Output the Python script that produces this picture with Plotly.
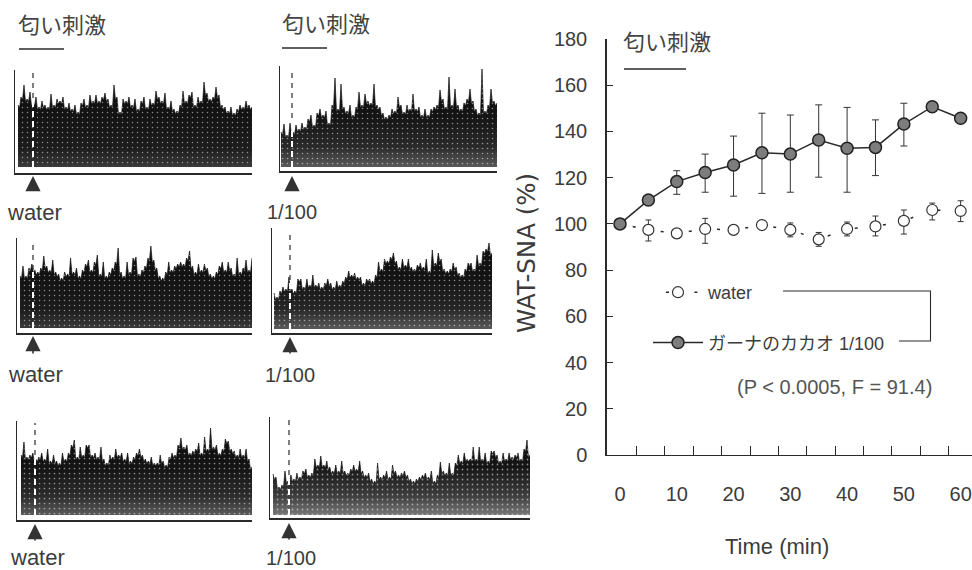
import plotly.graph_objects as go

# ---------- main chart data ----------
time_min = [0, 5, 10, 15, 20, 25, 30, 35, 40, 45, 50, 55, 60]
water = [100, 97.4, 95.9, 97.8, 97.4, 99.5, 97.4, 93.3, 97.8, 98.9, 101.3, 106, 105.6]
water_hi = [100, 101.7, 97.9, 102.4, 99.4, 101.5, 100.4, 96.3, 100.8, 103.4, 106, 109, 110]
water_lo = [100, 92.6, 93.9, 91.6, 95.4, 97.5, 94.4, 90.3, 94.8, 94.8, 95.6, 101.7, 101]
cacao = [100, 110.3, 118.3, 122.2, 125.5, 130.8, 130.2, 136.3, 132.7, 133.1, 143.2, 150.7, 145.7]
cacao_hi = [100, 110.3, 123, 130.2, 138, 147.9, 147.1, 151.5, 150.4, 145, 152.2, 152, 145.7]
cacao_lo = [100, 110.3, 112.8, 113.7, 112, 113.2, 113.7, 120.2, 113.7, 120.9, 133.7, 149.5, 145.7]
x_tick_labels = [0, 10, 20, 30, 40, 50, 60]
y_tick_labels = [0, 20, 40, 60, 80, 100, 120, 140, 160, 180]
# the printed tick marks sit about 2 min left of the plotted positions
x_tick_marks = [2.9, 7.9, 12.9, 17.9, 23.0, 27.9, 32.9, 37.9, 42.9, 47.9, 52.9, 57.9]

# ---------- nerve-activity traces: outline heights ----------
trace_water_1 = [62,70,82,68,75,64,70,60,66,62,60,73,62,68,66,70,60,64,58,62,55,64,68,62,72,66,72,66,70,74,68,62,82,70,55,68,66,70,62,68,58,66,70,60,68,64,76,70,66,74,60,66,58,56,62,76,66,72,75,62,70,66,85,74,68,70,80,72,62,60,56,60,54,58,62,60,66,62,60]
trace_dose_1 = [35,43,32,44,35,42,38,44,40,48,52,42,54,58,52,56,44,62,89,58,83,60,56,62,52,60,75,62,73,66,64,83,62,60,54,50,52,58,56,70,62,55,62,58,73,58,60,52,58,52,58,60,62,77,68,60,90,62,78,62,58,64,68,78,66,58,54,98,56,62,78,66,64]
trace_water_2 = [52,62,52,60,64,58,56,60,72,62,58,68,56,54,50,56,54,70,56,60,52,58,64,68,58,66,73,54,66,52,56,60,66,80,56,52,66,56,70,71,54,58,62,70,82,68,60,52,50,56,66,58,62,64,66,64,70,77,62,56,64,58,64,60,54,52,56,62,66,58,66,60,54,70,56,60,68,58,70]
trace_dose_2 = [36,32,38,42,40,52,40,38,50,50,42,50,44,54,44,46,42,46,50,46,42,48,44,48,52,58,54,56,52,52,46,50,50,48,54,67,60,70,68,72,76,68,62,70,64,70,62,60,64,66,62,70,58,79,66,76,70,60,58,60,66,62,56,54,60,66,66,60,74,66,78,80,86,76]
trace_water_3 = [60,73,58,60,62,56,58,62,56,66,54,60,54,52,62,56,62,70,75,58,68,60,70,70,60,62,58,68,56,52,60,58,66,60,62,56,62,54,58,62,66,60,56,54,58,52,52,60,54,50,58,62,60,70,77,68,70,62,64,66,72,62,78,66,87,68,70,62,66,76,74,66,64,60,66,60,66,56,48]
trace_dose_3 = [41,38,28,30,44,34,40,36,42,38,44,46,40,42,56,50,59,50,54,48,44,50,44,54,44,42,46,50,46,54,44,40,42,36,34,52,38,40,44,38,50,44,40,42,44,40,36,34,36,38,40,42,38,44,34,40,53,44,42,52,42,52,60,54,62,56,56,68,56,68,56,62,54,64,64,60,54,62,56,62,58,60,62,56,66,75,60]
panel_traces = [trace_water_1, trace_dose_1, trace_water_2, trace_dose_2, trace_water_3, trace_dose_3]
panel_labels = ["water", "1/100", "water", "1/100", "water", "1/100"]

W, H = 972, 570
def px(x): return x / W
def py(y): return 1 - y / H

INK = "#2a2a2a"
TXT = "#3c3c3c"
LAT = "Liberation Sans, Arial, sans-serif"
CJK = "Noto Sans CJK JP, sans-serif"

# axisL, axisR, axisB, axisT, fillL, fillB, stimX, arrowTop, arrowBottom, labelX, labelY, stimTopOfFill, solidity, lowGray, midGray
geom = [
    (15, 252, 173, 70, 18, 167, 33, 176, 192, 8, 212, 98, 0.07, "#3a3a3a", "#1c1c1c"),
    (280, 497, 171, 66, 281, 167, 292, 176, 192, 268, 212, 118, 0.08, "#5a5a5a", "#2a2a2a"),
    (17, 252, 333, 238, 20, 328, 33, 336, 355, 9, 374, 270, 0.07, "#3a3a3a", "#1c1c1c"),
    (272, 492, 333, 228, 274, 329, 290, 337, 355, 266, 375, 280, 0.08, "#5a5a5a", "#262626"),
    (17, 252, 520, 421, 21, 515, 35, 524, 542, 11, 557.5, 455, 0.09, "#5a5a5a", "#2c2c2c"),
    (270, 530, 518, 417, 273, 515, 289, 523, 541, 267, 557.5, 475, 0.10, "#777777", "#3c3c3c"),
]

fig = go.Figure()
layout = {}
shapes, annos = [], []

def spiky(vals):
    """Outline with a sharp notch between neighbouring readings, as in the scanned trace."""
    xs, ys = [], []
    for k, v in enumerate(vals):
        xs.append(k)
        ys.append(v)
        if k < len(vals) - 1:
            xs.append(k + 0.5)
            ys.append(min(v, vals[k + 1]) - 3)
    return xs, ys

for i, (vals, g, lab) in enumerate(zip(panel_traces, geom, panel_labels), start=1):
    aL, aR, aB, aT, fL, fB, sx, arT, arB, lx, ly, sT, sol, low, mid = g
    step = (aR - fL) / (len(vals) - 1)
    xs, ys = spiky(vals)
    # shaded body (black near the top, greyer near the base)
    fig.add_trace(go.Scatter(
        x=xs, y=ys, xaxis=f"x{i}", yaxis=f"y{i}",
        mode="lines", line=dict(color="#111111", width=0.7), fill="tozeroy",
        fillgradient=dict(type="vertical", start=0, stop=fB - aT,
                          colorscale=[[0, low], [0.2, mid], [0.5, "#141414"], [1, "#0c0c0c"]]),
        showlegend=False, hoverinfo="skip"))
    # stippled scan texture
    fig.add_trace(go.Scatter(
        x=xs, y=ys, xaxis=f"x{i}", yaxis=f"y{i}",
        mode="lines", line=dict(color="rgba(0,0,0,0)", width=0), fill="tozeroy",
        fillcolor="rgba(0,0,0,0)",
        fillpattern=dict(shape=".", fgcolor="#ffffff", bgcolor="rgba(0,0,0,0)", size=5, solidity=sol),
        showlegend=False, hoverinfo="skip"))
    layout[f"xaxis{i}"] = dict(domain=[px(aL), px(aR)], range=[-(fL - aL) / step, len(vals) - 1],
                               anchor=f"y{i}", showgrid=False, zeroline=False, showticklabels=False,
                               ticks="", showline=True, linecolor=INK, linewidth=1.5)
    layout[f"yaxis{i}"] = dict(domain=[py(aB), py(aT)], range=[-(aB - fB), fB - aT],
                               anchor=f"x{i}", showgrid=False, zeroline=False, showticklabels=False,
                               ticks="", showline=True, linecolor=INK, linewidth=1)
    # stimulus marker: white dashes through the fill, black dashes above it
    shapes.append(dict(type="line", xref="paper", yref="paper", x0=px(sx), x1=px(sx), y0=py(fB), y1=py(sT),
                       line=dict(color="#ffffff", width=2, dash="6px,4px")))
    shapes.append(dict(type="line", xref="paper", yref="paper", x0=px(sx), x1=px(sx), y0=py(sT), y1=py(aT + 2),
                       line=dict(color=INK, width=1.2, dash="5px,5px")))
    annos.append(dict(xref="paper", yref="paper", x=px(sx), y=py(arT), ax=0, ay=arB - arT,
                      text="", showarrow=True, arrowhead=2,
                      arrowsize=1.9, arrowwidth=1.6, arrowcolor="#333333"))
    annos.append(dict(xref="paper", yref="paper", x=px(lx - 3), y=py(ly), xanchor="left", yanchor="middle",
                      text=lab, showarrow=False,
                      font=dict(family=LAT, size=22 if lab == "water" else 20, color=TXT)))

# ---------- main chart ----------
def err(hi, mid):
    return [round(a - b, 1) for a, b in zip(hi, mid)]

fig.add_trace(go.Scatter(
    x=time_min, y=water, name="water", xaxis="x7", yaxis="y7", mode="lines+markers",
    line=dict(color=INK, width=1.5, dash="0px,13px,3px,12.4px"),
    marker=dict(symbol="circle", size=11, color="#ffffff", line=dict(color="#333333", width=1.2)),
    error_y=dict(type="data", symmetric=False, array=err(water_hi, water),
                 arrayminus=err(water, water_lo), color="#333333", thickness=1, width=3),
    legendgroup="a"))
fig.add_trace(go.Scatter(
    x=time_min, y=cacao, name="ガーナのカカオ 1/100", xaxis="x7", yaxis="y7", mode="lines+markers",
    line=dict(color=INK, width=1.5),
    marker=dict(symbol="circle", size=12, color="#7d7d7d", line=dict(color="#222222", width=1.5)),
    error_y=dict(type="data", symmetric=False, array=err(cacao_hi, cacao),
                 arrayminus=err(cacao, cacao_lo), color="#333333", thickness=1, width=3.5),
    legendgroup="b"))

layout["xaxis7"] = dict(domain=[px(607), 1], range=[-2.29, 62.0], anchor="y7", showgrid=False, zeroline=False,
                        tickmode="array", tickvals=x_tick_labels, ticktext=[str(v) for v in x_tick_labels],
                        ticks="", ticklabelstandoff=21, ticklabeloverflow="allow",
                        tickfont=dict(family=LAT, size=20, color=TXT),
                        minor=dict(tickmode="array", tickvals=x_tick_marks, ticks="inside", ticklen=9,
                                   tickcolor=INK, tickwidth=1),
                        showline=True, linecolor=INK, linewidth=1.2)
layout["yaxis7"] = dict(domain=[py(455), py(39)], range=[0, 180], anchor="x7", showgrid=False, zeroline=False,
                        tickmode="array", tickvals=y_tick_labels, ticktext=[str(v) for v in y_tick_labels],
                        ticks="inside", ticklen=6, tickcolor=INK, tickwidth=1.2, ticklabelstandoff=14,
                        ticklabeloverflow="allow",
                        tickfont=dict(family=LAT, size=20, color=TXT),
                        showline=True, linecolor=INK, linewidth=1.5)

for (xx, yy) in [(16, 23), (280, 22), (621, 40)]:
    annos.append(dict(xref="paper", yref="paper", x=px(xx), y=py(yy), xanchor="left", yanchor="middle",
                      text="匂い刺激", showarrow=False, font=dict(family=CJK, size=22, color="#444444")))
for (x0, x1, yy) in [(19, 64, 49), (282, 327, 48), (624, 686, 69)]:
    shapes.append(dict(type="line", xref="paper", yref="paper", x0=px(x0), x1=px(x1), y0=py(yy), y1=py(yy),
                       line=dict(color=INK, width=1.3)))
# bracket joining the two legend rows
shapes.append(dict(type="path", xref="paper", yref="paper",
                   path=f"M {px(783)} {py(291)} L {px(930.5)} {py(291)} L {px(930.5)} {py(341)} L {px(899)} {py(341)}",
                   line=dict(color=INK, width=1.1)))
annos.append(dict(xref="paper", yref="paper", x=px(735), y=py(387), xanchor="left", yanchor="middle",
                  text="(P < 0.0005, F = 91.4)", showarrow=False, font=dict(family=LAT, size=20, color="#555555")))
annos.append(dict(xref="paper", yref="paper", x=px(526), y=py(253), xanchor="center", yanchor="middle",
                  text="WAT-SNA (%)", textangle=-90, showarrow=False, font=dict(family="DejaVu Sans", size=24.5, color=TXT)))
annos.append(dict(xref="paper", yref="paper", x=px(777), y=py(546), xanchor="center", yanchor="middle",
                  text="Time (min)", showarrow=False, font=dict(family=LAT, size=22, color=TXT)))

fig.update_layout(
    width=W, height=H, margin=dict(l=0, r=0, t=0, b=0, autoexpand=False), autosize=False,
    paper_bgcolor="white", plot_bgcolor="rgba(0,0,0,0)",
    shapes=shapes, annotations=annos,
    legend=dict(x=px(648), y=py(274), xanchor="left", yanchor="top", bgcolor="rgba(0,0,0,0)",
                itemwidth=50, tracegroupgap=24, itemclick=False, itemdoubleclick=False,
                font=dict(family=f"Liberation Sans, {CJK}", size=18, color=TXT)),
    **layout)

fig.write_html("out.html", config={"displayModeBar": False},
               post_script="document.body.style.margin='0';document.body.style.overflow='hidden';")
